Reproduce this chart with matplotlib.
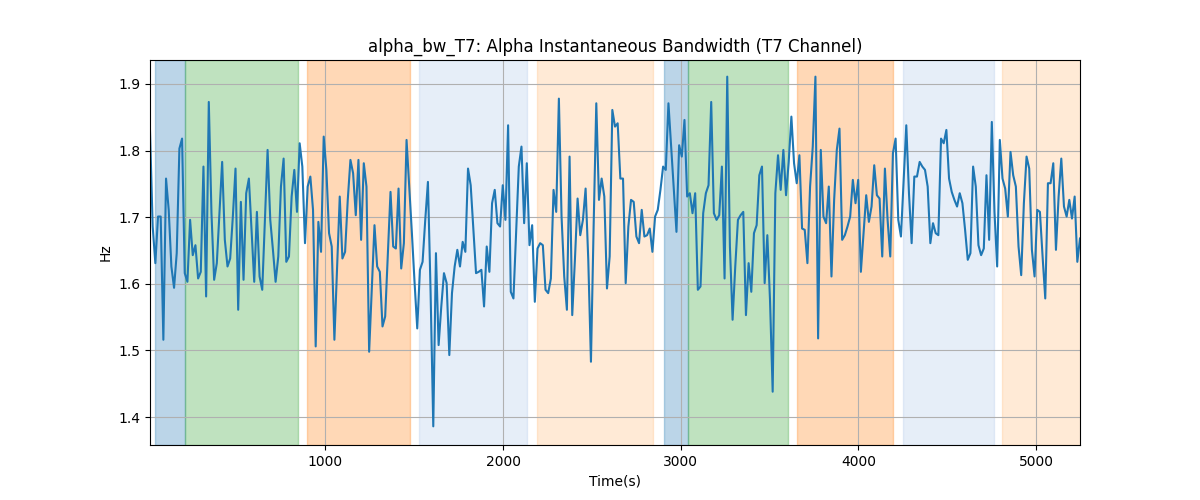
import matplotlib
matplotlib.use("Agg")
import matplotlib.pyplot as plt
import numpy as np

## === DATA

t_start = 13.0
t_step = 15.04

bandwidth_hz = [
    1.83, 1.686, 1.631, 1.701, 1.701, 1.516, 1.758, 1.711, 1.626, 1.594,
    1.646, 1.803, 1.818, 1.616, 1.603, 1.696, 1.643, 1.658, 1.608, 1.618,
    1.776, 1.581, 1.873, 1.706, 1.606, 1.631, 1.706, 1.783, 1.666, 1.626,
    1.638, 1.701, 1.773, 1.561, 1.723,
    1.606, 1.736, 1.758, 1.681, 1.603, 1.708, 1.611, 1.591, 1.696, 1.801,
    1.696, 1.651, 1.603, 1.641, 1.746, 1.788, 1.633, 1.641, 1.731, 1.771,
    1.708, 1.811, 1.776, 1.661, 1.746, 1.761, 1.711, 1.506, 1.693, 1.648,
    1.821, 1.771, 1.676, 1.656,
    1.516, 1.625, 1.731, 1.638, 1.648, 1.726, 1.786, 1.766, 1.703, 1.786,
    1.666, 1.781, 1.746, 1.498, 1.593, 1.688, 1.626, 1.618, 1.536, 1.551,
    1.646, 1.738, 1.656, 1.653, 1.743, 1.623, 1.661, 1.816, 1.746, 1.676,
    1.602, 1.533, 1.621, 1.633, 1.696,
    1.753, 1.586, 1.386, 1.646, 1.508, 1.566, 1.616, 1.601, 1.493, 1.586,
    1.626, 1.651, 1.626, 1.663, 1.648, 1.773, 1.748, 1.681, 1.616, 1.618,
    1.621, 1.566, 1.656, 1.618, 1.721, 1.741, 1.691, 1.686, 1.748, 1.696,
    1.838, 1.588, 1.578, 1.676,
    1.776, 1.806, 1.691, 1.781, 1.658, 1.688, 1.573, 1.653, 1.661, 1.658,
    1.591, 1.586, 1.608, 1.741, 1.708, 1.878, 1.701, 1.611, 1.561, 1.791,
    1.553, 1.636, 1.728, 1.673, 1.696, 1.743, 1.636, 1.483, 1.686, 1.871,
    1.726, 1.758, 1.731, 1.593,
    1.641, 1.861, 1.836, 1.841, 1.758, 1.758, 1.601, 1.686, 1.726, 1.723,
    1.671, 1.661, 1.711, 1.671, 1.673, 1.683, 1.648, 1.701, 1.711, 1.741,
    1.776, 1.771, 1.871, 1.806, 1.741, 1.678, 1.808, 1.791, 1.846, 1.731,
    1.736, 1.706, 1.736, 1.591, 1.596,
    1.706, 1.736, 1.748, 1.873, 1.706, 1.696, 1.703, 1.776, 1.608, 1.911,
    1.656, 1.546, 1.626, 1.696, 1.703, 1.708, 1.553, 1.631, 1.588, 1.676,
    1.688, 1.763, 1.776, 1.601, 1.673, 1.576, 1.438, 1.736, 1.793, 1.741,
    1.801, 1.733, 1.783, 1.851,
    1.781, 1.751, 1.793, 1.683, 1.681, 1.631, 1.746, 1.806, 1.911, 1.518,
    1.801, 1.701, 1.691, 1.746, 1.611, 1.726, 1.801, 1.833, 1.666, 1.673,
    1.686, 1.701, 1.756, 1.721, 1.756, 1.618, 1.676, 1.733, 1.693, 1.716,
    1.778, 1.733, 1.728, 1.641, 1.773,
    1.696, 1.641, 1.796, 1.818, 1.696, 1.671, 1.756, 1.838, 1.736, 1.661,
    1.761, 1.761, 1.783, 1.776, 1.771, 1.746, 1.661, 1.691, 1.676, 1.673,
    1.818, 1.811, 1.831, 1.758, 1.738, 1.726, 1.716, 1.736, 1.721, 1.681,
    1.636, 1.646, 1.776, 1.746,
    1.658, 1.643, 1.653, 1.763, 1.666, 1.843, 1.708, 1.626, 1.816, 1.758,
    1.743, 1.701, 1.798, 1.763, 1.746, 1.656, 1.613, 1.721, 1.791, 1.773,
    1.651, 1.611, 1.711, 1.708, 1.641, 1.578, 1.751, 1.751, 1.781, 1.651,
    1.731, 1.788, 1.716, 1.701, 1.726, 1.698, 1.731, 1.633, 1.668,
]

# shaded phases: (start, end, colour)
span_starts = [41, 210, 897, 1527, 2191, 2906, 3041, 3655, 4251, 4809]
span_ends = [210, 846, 1477, 2135, 2844, 3041, 3604, 4195, 4764, 5300]
span_colors = [
    "tab:blue", "tab:green", "tab:orange", "#aec7e8", "#ffbb78",
    "tab:blue", "tab:green", "tab:orange", "#aec7e8", "#ffbb78",
]

## === PLOT


def main() -> None:
    values = np.array(bandwidth_hz)
    times = t_start + t_step * np.arange(values.size)

    fig, ax = plt.subplots(figsize=(12, 5), dpi=100)
    for start, end, color in zip(span_starts, span_ends, span_colors):
        ax.axvspan(start, end, color=color, alpha=0.3)
    ax.plot(times, values, color="tab:blue", linewidth=1.5)
    ax.set_xlim(times[0], times[-1])
    ax.set_ylim(1.358, 1.936)
    ax.grid(True)
    ax.set_title("alpha_bw_T7: Alpha Instantaneous Bandwidth (T7 Channel)")
    ax.set_xlabel("Time(s)")
    ax.set_ylabel("Hz")
    fig.savefig("out.png", dpi=100)


if __name__ == "__main__":
    main()
